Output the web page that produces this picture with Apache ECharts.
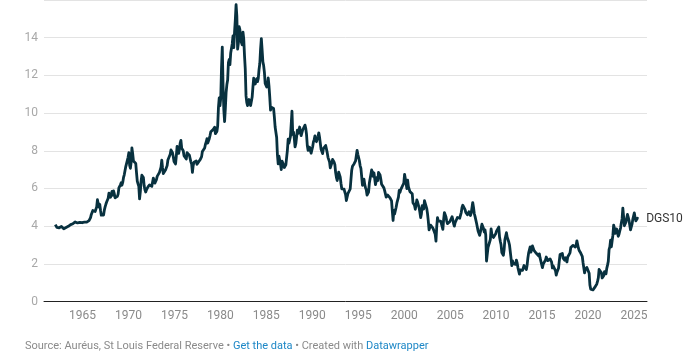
<!DOCTYPE html>
<html>
<head>
<meta charset="utf-8">
<script src="https://cdn.jsdelivr.net/npm/echarts@6/dist/echarts.min.js"></script>
<style>
html,body{margin:0;padding:0;background:#fff;}
#chart{width:691px;height:358px;}
</style>
</head>
<body>
<div id="chart"></div>
<script>
// Monthly 10-year Treasury yield (%), Jan 1962 onward
const firstYear = 1962;
const yields1960s = [
4.08,4.04,3.93,3.84,3.87,3.91,4.01,3.98,3.98,3.93,3.92,3.86,
3.83,3.92,3.93,3.97,3.93,3.99,4.02,4.00,4.08,4.11,4.12,4.13,
4.17,4.15,4.22,4.23,4.20,4.17,4.19,4.19,4.20,4.19,4.15,4.18,
4.19,4.21,4.21,4.20,4.21,4.21,4.20,4.25,4.29,4.35,4.45,4.62,
4.61,4.83,4.87,4.75,4.78,4.81,5.02,5.40,5.18,5.01,5.16,4.84,
4.58,4.63,4.50,4.59,4.85,5.02,5.16,5.28,5.30,5.48,5.75,5.70,
5.53,5.56,5.84,5.64,5.87,5.72,5.50,5.42,5.46,5.58,5.70,6.03,
6.04,6.19,6.30,6.17,6.32,6.57,6.72,6.69,7.16,7.10,7.14,7.65
];
const yields1970s = [
7.90,7.24,7.07,7.39,8.15,7.84,7.46,7.53,7.39,7.33,6.84,6.39,
6.24,6.11,5.45,5.83,6.39,6.70,6.73,6.58,6.14,5.93,5.81,5.93,
5.95,6.08,6.07,6.19,6.13,6.11,6.11,6.21,6.55,6.48,6.28,6.36,
6.46,6.64,6.71,6.67,6.85,6.90,7.13,7.50,7.09,6.79,6.73,6.74,
6.99,6.96,7.21,7.51,7.58,7.54,7.81,8.04,8.10,7.90,7.68,7.43,
7.50,7.30,7.73,8.23,8.06,7.86,8.06,8.40,8.55,8.14,8.05,8.00,
7.74,7.79,7.73,7.56,7.90,7.86,7.83,7.77,7.59,7.41,7.29,6.85,
7.21,7.39,7.46,7.37,7.46,7.28,7.33,7.40,7.34,7.52,7.58,7.69,
7.96,8.03,8.04,8.15,8.35,8.46,8.64,8.41,8.42,8.64,8.81,9.01,
9.10,9.10,9.12,9.18,9.25,8.91,8.95,9.03,9.33,10.30,10.80,10.39
];
const yields1980s = [
10.80,12.41,13.50,11.47,10.18,9.55,10.25,11.10,11.51,11.75,12.68,12.84,
12.57,13.19,13.12,13.68,14.10,13.47,14.28,14.94,15.75,15.15,13.39,13.72,
14.59,14.43,13.86,13.87,13.62,14.30,13.95,13.06,12.34,10.91,10.55,10.40,
10.46,10.72,10.51,10.40,10.38,10.85,11.38,11.85,11.65,11.54,11.69,11.83,
11.67,11.84,12.32,12.63,13.41,13.95,13.36,12.72,12.52,12.16,11.57,11.50,
11.38,11.51,11.86,11.43,10.85,10.16,10.31,10.33,10.37,10.24,9.78,9.26,
9.19,8.70,7.78,7.30,7.71,7.80,7.30,7.00,7.45,7.43,7.25,7.11,
7.08,7.25,7.25,8.02,8.61,8.40,8.45,8.76,9.42,10.10,8.86,8.99,
8.67,8.21,8.37,8.72,9.09,8.92,9.06,9.26,8.98,8.80,8.96,9.11,
9.09,9.17,9.36,9.18,8.86,8.28,8.02,8.11,8.19,8.01,7.87,7.84
];
const yields1990s = [
8.21,8.47,8.59,8.79,8.76,8.48,8.47,8.75,8.95,8.72,8.39,8.08,
8.09,7.85,8.11,8.04,8.07,8.28,8.27,7.90,7.65,7.53,7.42,7.09,
7.03,7.34,7.54,7.48,7.39,7.26,6.84,6.59,6.42,6.59,6.87,6.77,
6.60,6.26,5.98,5.97,6.04,5.96,5.81,5.68,5.36,5.30,5.72,5.77,
5.75,5.97,6.48,6.97,7.18,7.10,7.30,7.24,7.46,7.74,8.02,7.81,
7.78,7.47,7.20,7.06,6.63,6.17,6.28,6.49,6.20,6.04,5.93,5.65,
5.65,5.81,6.27,6.51,6.74,6.98,6.87,6.64,6.83,6.53,6.20,6.30,
6.58,6.42,6.85,6.89,6.71,6.49,6.22,6.30,6.21,6.03,5.88,5.81,
5.54,5.57,5.65,5.64,5.65,5.50,5.46,5.34,4.81,4.30,4.83,4.65,
4.72,5.00,5.23,5.18,5.54,5.90,5.79,5.94,5.92,6.11,6.03,6.28
];
const yields2000s = [
6.75,6.52,6.26,5.99,6.44,6.10,6.05,5.83,5.80,5.74,5.72,5.24,
5.16,5.10,4.89,5.14,5.39,5.28,5.24,4.97,4.73,4.45,4.65,5.09,
5.04,4.91,5.35,5.21,5.16,4.93,4.65,4.26,3.80,3.94,4.05,4.03,
4.05,3.90,3.81,3.96,3.57,3.20,3.98,4.45,4.27,4.29,4.30,4.27,
4.15,4.08,3.83,4.35,4.72,4.80,4.50,4.28,4.13,4.10,4.19,4.23,
4.22,4.17,4.50,4.34,4.14,4.00,4.18,4.26,4.20,4.46,4.54,4.47,
4.42,4.57,4.72,4.99,5.11,5.18,5.09,4.88,4.72,4.73,4.60,4.56,
4.76,4.72,4.56,4.69,4.75,5.25,5.00,4.67,4.52,4.53,4.15,4.10,
3.74,3.74,3.51,3.68,3.88,4.10,4.01,3.89,3.69,3.81,3.53,2.15,
2.52,2.87,2.82,2.93,3.29,3.85,3.56,3.59,3.40,3.39,3.40,3.59
];
const yields2010s = [
3.73,3.69,3.73,3.95,3.42,3.20,3.01,2.60,2.65,2.45,2.76,3.29,
3.39,3.65,3.41,3.46,3.17,3.00,3.00,2.30,1.90,2.15,2.01,1.98,
1.97,1.97,2.20,2.05,1.80,1.62,1.45,1.68,1.72,1.75,1.65,1.72,
1.91,1.98,1.96,1.70,1.93,2.30,2.58,2.74,2.90,2.62,2.72,2.95,
2.86,2.71,2.72,2.71,2.56,2.60,2.54,2.42,2.53,2.30,2.33,2.21,
1.80,1.98,2.04,1.94,2.20,2.36,2.32,2.17,2.17,2.07,2.26,2.24,
2.09,1.78,1.89,1.81,1.81,1.64,1.40,1.56,1.63,1.76,2.14,2.49,
2.43,2.42,2.55,2.30,2.30,2.19,2.32,2.21,2.10,2.36,2.35,2.40,
2.58,2.86,2.84,2.87,2.98,2.91,2.89,2.89,3.00,3.22,3.12,2.83,
2.71,2.68,2.57,2.53,2.40,2.07,2.06,1.52,1.70,1.71,1.81,1.86
];
const yields2020s = [
1.76,1.50,0.87,0.66,0.67,0.73,0.62,0.55,0.68,0.79,0.87,0.93,
1.08,1.26,1.70,1.64,1.62,1.52,1.25,1.28,1.37,1.58,1.56,1.47,
1.76,1.93,2.13,2.75,2.90,3.25,2.90,2.90,3.52,4.05,3.89,3.62,
3.53,3.85,3.66,3.46,3.57,3.75,3.90,4.17,4.38,4.95,4.50,4.02,
4.06,4.21,4.21,4.62,4.48,4.31,4.25,3.80,3.72,4.10,4.36,4.45,
4.70,4.45,4.28,4.28,4.42,4.38
];
const xTickYears = [1965,1970,1975,1980,1985,1990,1995,2000,2005,2010,2015,2020,2025];
const yTicks = [0,2,4,6,8,10,12,14];
const seriesName = 'DGS10';

const allYields = [].concat(yields1960s, yields1970s, yields1980s, yields1990s, yields2000s, yields2010s, yields2020s);
const seriesData = allYields.map((v, i) => [firstYear + (i + 0.5) / 12, v]);

const chart = echarts.init(document.getElementById('chart'), null, {renderer: 'canvas'});
chart.setOption({
  animation: false,
  backgroundColor: '#ffffff',
  textStyle: {fontFamily: 'Roboto'},
  grid: {left: 44, right: 44, top: -2, bottom: 56.5, containLabel: false},
  xAxis: {
    type: 'value',
    min: 1960.81,
    max: 2026.42,
    axisLine: {show: true, lineStyle: {color: '#222', width: 1}},
    axisTick: {show: false},
    splitLine: {show: false},
    axisLabel: {
      customValues: xTickYears,
      color: '#8a8a8a', fontSize: 12, margin: 8, fontFamily: 'Roboto',
      formatter: v => String(v)
    }
  },
  yAxis: {
    type: 'value',
    min: 0, max: 16, interval: 2,
    axisLine: {show: false},
    axisTick: {show: false},
    splitLine: {show: true, lineStyle: {color: '#e3e3e3', width: 1}},
    axisLabel: {
      color: '#a8a8a8', fontSize: 12, margin: 6, fontFamily: 'Roboto',
      formatter: v => (yTicks.indexOf(v) >= 0 ? String(v) : '')
    }
  },
  series: [{
    name: seriesName,
    type: 'line',
    data: seriesData,
    showSymbol: false,
    symbol: 'none',
    lineStyle: {color: '#08313f', width: 2.8, join: 'round'},
    endLabel: {
      show: true, formatter: seriesName, color: '#333', fontSize: 12,
      fontFamily: 'Roboto', distance: 8
    },
    z: 3
  }],
  graphic: [{
    type: 'text',
    left: 25, top: 341,
    style: {
      text: '{g|Source: Auréus, St Louis Federal Reserve • }{b|Get the data}{g| • Created with }{b|Datawrapper}',
      rich: {
        g: {fill: '#8a8a8a', fontSize: 11, fontFamily: 'Roboto'},
        b: {fill: '#1d87c6', fontSize: 11, fontFamily: 'Roboto'}
      }
    }
  }]
});
</script>
</body>
</html>
